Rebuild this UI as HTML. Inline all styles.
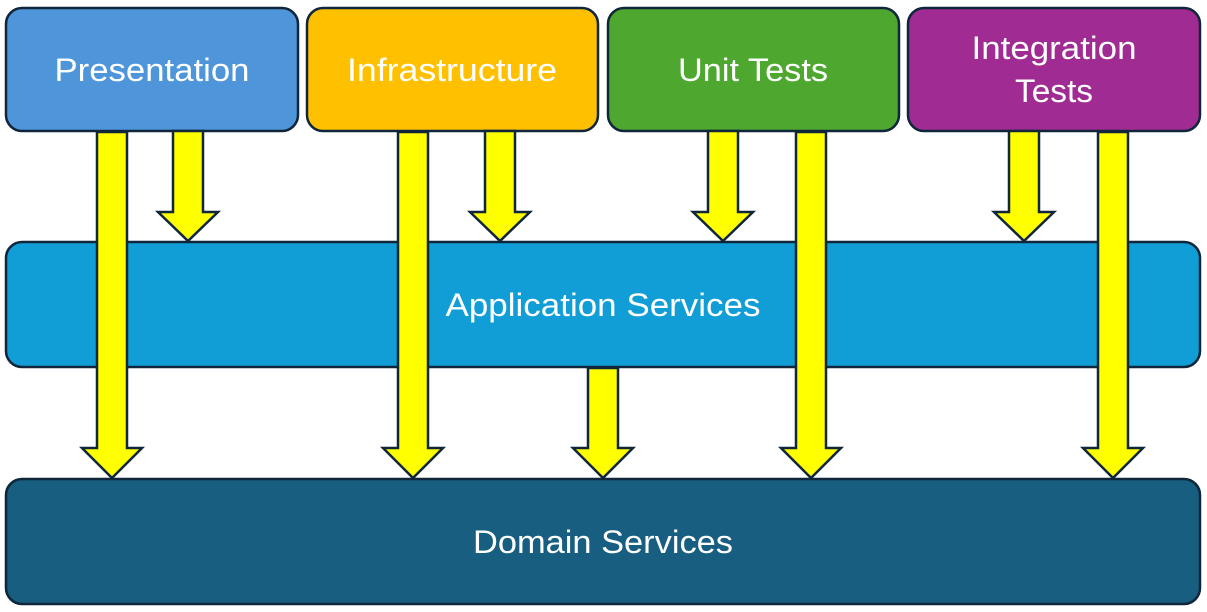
<!DOCTYPE html>
<html><head><style>
html,body{margin:0;padding:0;background:#fff;width:1207px;height:612px;overflow:hidden}
svg text{font-family:"Liberation Sans",sans-serif;fill:#fff;text-anchor:middle}
</style></head><body>
<svg width="1207" height="612" viewBox="0 0 1207 612" xmlns="http://www.w3.org/2000/svg">
<g stroke="#10263a" stroke-width="2.5">
<rect x="6" y="8" width="292" height="123" rx="16" fill="#4e95d9"/>
<rect x="307" y="8" width="291" height="123" rx="16" fill="#ffc000"/>
<rect x="608" y="8" width="291" height="123" rx="16" fill="#4ea72e"/>
<rect x="908" y="8" width="292" height="123" rx="16" fill="#a02b93"/>
<rect x="6" y="242" width="1194" height="125" rx="16" fill="#119ed6"/>
<rect x="6" y="479" width="1194" height="125" rx="16" fill="#175e80"/>
</g>
<g font-size="32" lengthAdjust="spacingAndGlyphs">
<text x="152" y="81" textLength="195" lengthAdjust="spacingAndGlyphs">Presentation</text>
<text x="452" y="81" textLength="210" lengthAdjust="spacingAndGlyphs">Infrastructure</text>
<text x="753" y="81" textLength="150" lengthAdjust="spacingAndGlyphs">Unit Tests</text>
<text x="1054" y="59" textLength="165" lengthAdjust="spacingAndGlyphs">Integration</text>
<text x="1054" y="102" textLength="78" lengthAdjust="spacingAndGlyphs">Tests</text>
<text x="603" y="316" textLength="315" lengthAdjust="spacingAndGlyphs">Application Services</text>
<text x="603" y="553" textLength="260" lengthAdjust="spacingAndGlyphs">Domain Services</text>
</g>
<g fill="#ffff00" stroke="#10263a" stroke-width="2.5" stroke-linejoin="miter">
<path d="M173 131 H203 V212 H218 L188 241 L158 212 H173 Z"/>
<path d="M485 131 H515 V212 H530 L500 241 L470 212 H485 Z"/>
<path d="M708 131 H738 V212 H753 L723 241 L693 212 H708 Z"/>
<path d="M1009 131 H1039 V212 H1054 L1024 241 L994 212 H1009 Z"/>
<path d="M97 132 H127 V448 H142 L112 478 L82 448 H97 Z"/>
<path d="M398 132 H428 V448 H443 L413 478 L383 448 H398 Z"/>
<path d="M796 132 H826 V448 H841 L811 478 L781 448 H796 Z"/>
<path d="M1098 132 H1128 V448 H1143 L1113 478 L1083 448 H1098 Z"/>
<path d="M588 368 H618 V448 H633 L603 478 L573 448 H588 Z"/>
</g>
</svg>
</body></html>
